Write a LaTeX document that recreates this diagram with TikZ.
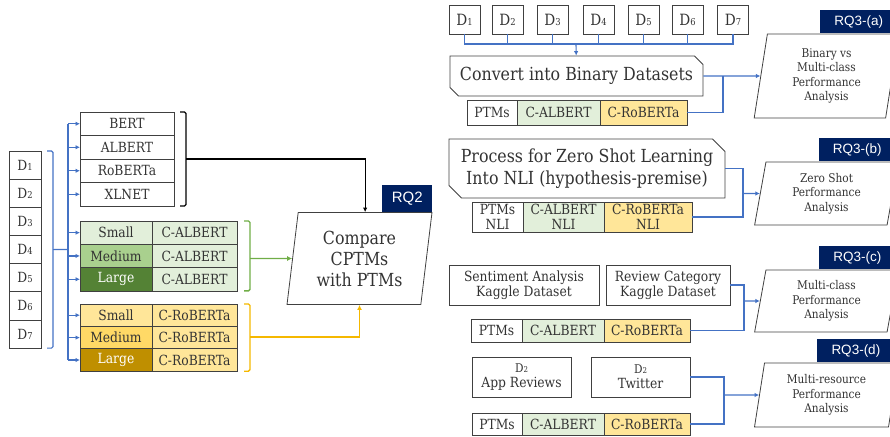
\documentclass[tikz,border=0pt]{standalone}
\usepackage{fontspec}
\setmainfont{DejaVu Serif}[FakeStretch=0.88]
\newfontfamily\tagfont{Liberation Sans}
\usetikzlibrary{shapes.geometric,shapes.misc,positioning,arrows.meta}

\definecolor{linkblue}{HTML}{4472C4}
\definecolor{rqnavy}{HTML}{002060}
\definecolor{palegreen}{HTML}{E2EFDA}
\definecolor{midgreen}{HTML}{A9D08E}
\definecolor{deepgreen}{HTML}{548235}
\definecolor{bracegreen}{HTML}{70AD47}
\definecolor{paleyellow}{HTML}{FFE699}
\definecolor{midyellow}{HTML}{FFD966}
\definecolor{deepyellow}{HTML}{BF8F00}
\definecolor{braceyellow}{HTML}{F5B800}
\definecolor{boxline}{HTML}{404040}

\newcommand{\dsub}[2][9.5]{D{\fontsize{#1}{#1}\selectfont #2}}

\tikzset{
  cell/.style={draw=boxline, line width=0.8pt, rectangle, inner sep=0pt, outer sep=0pt,
    align=center, minimum height=23.5pt, text=black!80, font=\fontsize{14}{15}\selectfont},
  dbox/.style={draw=boxline, line width=0.8pt, rectangle, inner sep=0pt, outer sep=0pt,
    minimum width=32pt, minimum height=28.15pt, text=black!80, font=\fontsize{14}{14}\selectfont},
  srcbox/.style={draw=boxline, line width=0.8pt, rectangle, inner sep=0pt, align=center,
    minimum height=40pt, text=black!80, font=\fontsize{14}{15}\selectfont},
  stagebox/.style={draw=boxline, line width=0.8pt, chamfered rectangle,
    chamfered rectangle corners={north east,south west}, inner sep=0pt, align=center,
    text=black!80, font=\fontsize{18}{22}\selectfont},
  goal/.style={draw=boxline, line width=0.8pt, trapezium, trapezium left angle=81,
    trapezium right angle=99, trapezium stretches=true, inner sep=0pt, align=center,
    minimum width=145pt, text=black!80, font=\fontsize{12}{14.3}\selectfont},
  rqtag/.style={fill=rqnavy, text=white, inner sep=0pt, minimum width=77pt,
    minimum height=23pt, font=\tagfont\fontsize{13.5}{14}\selectfont},
  wire/.style={draw=linkblue, line width=1.1pt},
  feed/.style={wire, -{Latex[length=4.5pt,width=4.5pt]}},
  brace/.style={line width=1.4pt, rounded corners=1.5pt},
}

\begin{document}
\begin{tikzpicture}[x=1pt,y=-1pt]
\useasboundingbox (0,0) rectangle (890,436);

% Datasets (left)
\node [dbox] (l1) at (25,165.1) {\dsub{1}};
\node [dbox, below=0pt of l1] (l2) {\dsub{2}};
\node [dbox, below=0pt of l2] (l3) {\dsub{3}};
\node [dbox, below=0pt of l3] (l4) {\dsub{4}};
\node [dbox, below=0pt of l4] (l5) {\dsub{5}};
\node [dbox, below=0pt of l5] (l6) {\dsub{6}};
\node [dbox, below=0pt of l6] (l7) {\dsub{7}};

% PTMs
\node [cell, minimum width=94pt] (bert) at (127,123.75) {BERT};
\node [cell, minimum width=94pt, below=0pt of bert] (albert) {ALBERT};
\node [cell, minimum width=94pt, below=0pt of albert] (roberta) {RoBERTa};
\node [cell, minimum width=94pt, below=0pt of roberta] (xlnet) {XLNET};

% C-ALBERT sizes
\node [cell, fill=palegreen, minimum width=72pt, minimum height=23.3pt] (gsmall) at (116,232.65) {Small};
\node [cell, fill=palegreen, minimum width=85pt, minimum height=23.3pt, right=0pt of gsmall] (galb1) {C-ALBERT};
\node [cell, fill=midgreen, minimum width=72pt, minimum height=23.3pt, below=0pt of gsmall] (gmed) {Medium};
\node [cell, fill=palegreen, minimum width=85pt, minimum height=23.3pt, right=0pt of gmed] (galb2) {C-ALBERT};
\node [cell, fill=deepgreen, text=white, minimum width=72pt, minimum height=23.3pt, below=0pt of gmed] (glarge) {Large};
\node [cell, fill=palegreen, minimum width=85pt, minimum height=23.3pt, right=0pt of glarge] (galb3) {C-ALBERT};

% C-RoBERTa sizes
\node [cell, fill=paleyellow, minimum width=72pt, minimum height=22.4pt] (ysmall) at (116,315.2) {Small};
\node [cell, fill=paleyellow, minimum width=85pt, minimum height=22.4pt, right=0pt of ysmall] (yrob1) {C-RoBERTa};
\node [cell, fill=midyellow, minimum width=72pt, minimum height=22.4pt, below=0pt of ysmall] (ymed) {Medium};
\node [cell, fill=paleyellow, minimum width=85pt, minimum height=22.4pt, right=0pt of ymed] (yrob2) {C-RoBERTa};
\node [cell, fill=deepyellow, text=white, minimum width=72pt, minimum height=22.4pt, below=0pt of ymed] (ylarge) {Large};
\node [cell, fill=paleyellow, minimum width=85pt, minimum height=22.4pt, right=0pt of ylarge] (yrob3) {C-RoBERTa};

% RQ2
\node [goal, minimum height=92pt, trapezium left angle=82, trapezium right angle=98,
    font=\fontsize{18}{21}\selectfont] (cmp) at (359.5,258.5) {Compare\\CPTMs\\with PTMs};
\node [rqtag, minimum width=50pt, minimum height=27pt, anchor=south east,
    font=\tagfont\fontsize{15}{15}\selectfont] (rq2) at (cmp.top right corner) {RQ2};

% left connectors
\coordinate (lbr) at ([xshift=12pt]l4.east);
\coordinate (trunk) at (68,249.5);
\draw [wire, rounded corners=1.5pt] ([xshift=6pt]l1.north east) -- ++(6,0) |- ([xshift=6pt]l7.south east);
\draw [wire] (lbr) -- (trunk);
\draw [wire] (trunk |- bert) -- (trunk |- ylarge);
\draw [feed] (trunk |- bert) -- (bert);
\draw [feed] (trunk |- albert) -- (albert);
\draw [feed] (trunk |- roberta) -- (roberta);
\draw [feed] (trunk |- xlnet) -- (xlnet);
\draw [feed] (trunk |- gsmall) -- (gsmall);
\draw [feed] (trunk |- gmed) -- (gmed);
\draw [feed] (trunk |- glarge) -- (glarge);
\draw [feed] (trunk |- ysmall) -- (ysmall);
\draw [feed] (trunk |- ymed) -- (ymed);
\draw [feed] (trunk |- ylarge) -- (ylarge);

\coordinate (pbr) at ([xshift=12pt]roberta.north east);
\draw [brace] ([xshift=6pt]bert.north east) -- ++(6,0) |- ([xshift=6pt]xlnet.south east);
\draw [line width=1.2pt, -{Latex[length=4.5pt,width=4.5pt]}] (pbr) -| (cmp.top side);

\coordinate (gbr) at ([xshift=13pt]galb2.east |- cmp);
\draw [brace, bracegreen] ([xshift=7pt]galb1.north east) -- ++(6,0) |- ([xshift=7pt]galb3.south east);
\draw [bracegreen, line width=1.4pt, -{Latex[length=5pt,width=5pt]}] (gbr) -- (cmp);

\coordinate (ybr) at ([xshift=13pt,yshift=0.6pt]yrob2.east);
\draw [brace, braceyellow] ([xshift=7pt]yrob1.north east) -- ++(6,0) |- ([xshift=7pt]yrob3.south east);
\draw [draw=braceyellow, line width=1.6pt, -{Latex[length=5pt,width=5pt]}] (ybr) -| (cmp.south);

% Datasets (top)
\node [dbox, minimum width=31pt, minimum height=29pt, font=\fontsize{15.5}{15.5}\selectfont] (r1) at (464.5,19.5) {\dsub{1}};
\node [dbox, minimum width=31pt, minimum height=29pt, font=\fontsize{15.5}{15.5}\selectfont] (r2) at (507.5,19.5) {\dsub{2}};
\node [dbox, minimum width=31pt, minimum height=29pt, font=\fontsize{15.5}{15.5}\selectfont] (r3) at (552.5,19.5) {\dsub{3}};
\node [dbox, minimum width=31pt, minimum height=29pt, font=\fontsize{15.5}{15.5}\selectfont] (r4) at (598.5,19.5) {\dsub{4}};
\node [dbox, minimum width=31pt, minimum height=29pt, font=\fontsize{15.5}{15.5}\selectfont] (r5) at (643.5,19.5) {\dsub{5}};
\node [dbox, minimum width=31pt, minimum height=29pt, font=\fontsize{15.5}{15.5}\selectfont] (r6) at (687.5,19.5) {\dsub{6}};
\node [dbox, minimum width=31pt, minimum height=29pt, font=\fontsize{15.5}{15.5}\selectfont] (r7) at (733,19.5) {\dsub{7}};

% RQ3-(a)
\node [stagebox, minimum width=253pt, minimum height=40pt, chamfered rectangle xsep=5pt] (conv) at (576.5,76) {Convert into Binary Datasets};
\node [cell, minimum width=50pt, minimum height=25pt] (t1p) at (492,112.5) {PTMs};
\node [cell, fill=palegreen, minimum width=83pt, minimum height=25pt, right=0pt of t1p] (t1a) {C-ALBERT};
\node [cell, fill=paleyellow, minimum width=87pt, minimum height=25pt, right=0pt of t1a] (t1r) {C-RoBERTa};
\node [goal, minimum height=84pt, trapezium left angle=82, trapezium right angle=98] (rqa) at (826.5,76) {Binary vs\\Multi-class\\Performance\\Analysis};
\node [rqtag, anchor=south west] (taga) at ([xshift=53pt]rqa.top left corner) {RQ3-(a)};

\coordinate (bus) at (576,44);
\coordinate (j1) at (723,76);
\draw [wire] (r1.south) |- (bus) -| (r7.south);
\draw [wire] (r2.south) -- (r2 |- bus);
\draw [wire] (r3.south) -- (r3 |- bus);
\draw [wire] (r4.south) -- (r4 |- bus);
\draw [wire] (r5.south) -- (r5 |- bus);
\draw [wire] (r6.south) -- (r6 |- bus);
\draw [feed] (bus) -- (conv);
\draw [wire] (t1r.east) -| (j1);
\draw [feed] (conv.east) -- (rqa);

% RQ3-(b)
\node [stagebox, minimum width=276pt, minimum height=59pt, chamfered rectangle xsep=9pt] (proc) at (587,168.5) {Process for Zero Shot Learning\\Into NLI (hypothesis-premise)};
\node [cell, minimum width=51pt, minimum height=30pt] (t2p) at (497.5,217) {PTMs\\NLI};
\node [cell, fill=palegreen, minimum width=81pt, minimum height=30pt, right=0pt of t2p] (t2a) {C-ALBERT\\NLI};
\node [cell, fill=paleyellow, minimum width=88pt, minimum height=30pt, right=0pt of t2a] (t2r) {C-RoBERTa\\NLI};
\node [goal, minimum height=63pt] (rqb) at (826.5,193.5) {Zero Shot\\Performance\\Analysis};
\node [rqtag, anchor=south west] (tagb) at ([xshift=53pt]rqb.top left corner) {RQ3-(b)};

\coordinate (j2) at (743,193.5);
\draw [wire] (proc.east) -| (j2) |- (t2r.east);
\draw [feed] (j2) -- (rqb);

% RQ3-(c)
\node [srcbox, minimum width=150pt] (senti) at (524,285) {Sentiment Analysis\\Kaggle Dataset};
\node [srcbox, minimum width=124pt] (review) at (668,285) {Review Category\\Kaggle Dataset};
\node [cell, minimum width=51pt, minimum height=23pt] (t3p) at (496.5,330.5) {PTMs};
\node [cell, fill=palegreen, minimum width=82pt, minimum height=23pt, right=0pt of t3p] (t3a) {C-ALBERT};
\node [cell, fill=paleyellow, minimum width=86pt, minimum height=23pt, right=0pt of t3a] (t3r) {C-RoBERTa};
\node [goal, minimum height=62pt] (rqc) at (826.5,301) {Multi-class\\Performance\\Analysis};
\node [rqtag, anchor=south west] (tagc) at ([xshift=53pt]rqc.top left corner) {RQ3-(c)};

\coordinate (j3) at (744,301);
\draw [wire] (review.east) -| (j3) |- (t3r.east);
\draw [feed] (j3) -- (rqc);

% RQ3-(d)
\node [srcbox, minimum width=99pt] (apprev) at (521.5,377) {{\fontsize{12}{12}\selectfont\dsub[8]{2}}\\App Reviews};
\node [srcbox, minimum width=99pt] (twitter) at (640.5,377) {{\fontsize{12}{12}\selectfont\dsub[8]{2}}\\Twitter};
\node [cell, minimum width=50pt, minimum height=22pt] (t4p) at (497,424) {PTMs};
\node [cell, fill=palegreen, minimum width=82pt, minimum height=22pt, right=0pt of t4p] (t4a) {C-ALBERT};
\node [cell, fill=paleyellow, minimum width=86pt, minimum height=22pt, right=0pt of t4a] (t4r) {C-RoBERTa};
\node [goal, minimum height=64pt] (rqd) at (826.5,395) {Multi-resource\\Performance\\Analysis};
\node [rqtag, anchor=south west] (tagd) at ([xshift=53pt]rqd.top left corner) {RQ3-(d)};

\coordinate (j4) at (724,395);
\draw [wire] (twitter.east) -| (j4) |- (t4r.east);
\draw [feed] (j4) -- (rqd);

\end{tikzpicture}
\end{document}
